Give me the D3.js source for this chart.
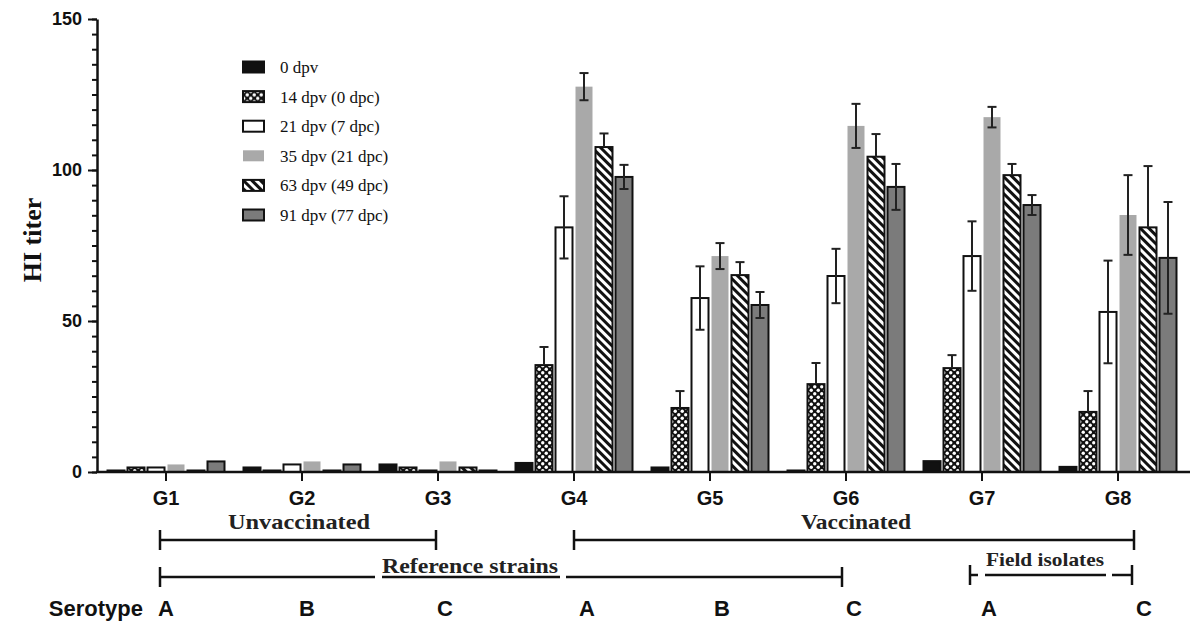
<!DOCTYPE html>
<html>
<head>
<meta charset="utf-8">
<script src="https://cdn.jsdelivr.net/npm/d3@7"></script>
<style>
  body { margin: 0; background: #fff; }
  svg { display: block; }
  .sans { font-family: "Liberation Sans", Arial, sans-serif; font-weight: bold; }
  .serif { font-family: "Liberation Serif", "Times New Roman", serif; }
</style>
</head>
<body>
<div id="chart"></div>
<script>
// Groups on the x axis
const groups = ["G1", "G2", "G3", "G4", "G5", "G6", "G7", "G8"];

// Legend labels (one per series)
const seriesNames = [
  "0 dpv",
  "14 dpv (0 dpc)",
  "21 dpv (7 dpc)",
  "35 dpv (21 dpc)",
  "63 dpv (49 dpc)",
  "91 dpv (77 dpc)"
];

// HI titer means (G1..G8)
const dpv0  = [0.5, 1.5, 2.5, 3.0, 1.5, 0.5, 3.6, 1.7];
const dpv14 = [1.5, 0.5, 1.5, 35.4, 21.2, 29.1, 34.4, 19.9];
const dpv21 = [1.5, 2.5, 0.5, 81.0, 57.6, 64.9, 71.5, 53.0];
const dpv35 = [2.5, 3.5, 3.5, 127.6, 71.5, 114.6, 117.5, 85.1];
const dpv63 = [0.5, 0.5, 1.5, 107.6, 65.2, 104.4, 98.3, 81.0];
const dpv91 = [3.5, 2.5, 0.5, 97.7, 55.3, 94.4, 88.4, 70.9];

// error bars (SD)
const err0  = [0, 0, 0, 0, 0, 0, 0, 0];
const err14 = [0, 0, 0, 6.0, 5.6, 7.0, 4.3, 6.9];
const err21 = [0, 0, 0, 10.3, 10.5, 9.0, 11.5, 17.0];
const err35 = [0, 0, 0, 4.5, 4.3, 7.3, 3.4, 13.2];
const err63 = [0, 0, 0, 4.5, 4.3, 7.5, 3.7, 20.3];
const err91 = [0, 0, 0, 4.0, 4.3, 7.6, 3.3, 18.5];

const yMajorTicks = [0, 50, 100, 150];

// Serotype row under the groups
const serotypes = ["A", "B", "C", "A", "B", "C", "A", "C"];

const values = [dpv0, dpv14, dpv21, dpv35, dpv63, dpv91];
const errors = [err0, err14, err21, err35, err63, err91];

const width = 1190, height = 624;

const svg = d3.select("#chart").append("svg")
  .attr("width", width)
  .attr("height", height);

// patterns
const defs = svg.append("defs");

const dots = defs.append("pattern")
  .attr("id", "dots")
  .attr("patternUnits", "userSpaceOnUse")
  .attr("width", 7).attr("height", 7);
dots.append("rect").attr("width", 7).attr("height", 7).attr("fill", "#111");
dots.append("circle").attr("cx", 1.75).attr("cy", 1.75).attr("r", 1.7).attr("fill", "#fff");
dots.append("circle").attr("cx", 5.25).attr("cy", 5.25).attr("r", 1.7).attr("fill", "#fff");

const stripes = defs.append("pattern")
  .attr("id", "stripes")
  .attr("patternUnits", "userSpaceOnUse")
  .attr("width", 6).attr("height", 6)
  .attr("patternTransform", "rotate(-45)");
stripes.append("rect").attr("width", 6).attr("height", 6).attr("fill", "#111");
stripes.append("rect").attr("width", 3).attr("height", 6).attr("fill", "#fff");

// bar look per series
const fills = ["#111", "url(#dots)", "#fff", "#a9a9a9", "url(#stripes)", "#7b7b7b"];
const strokes = ["#111", "#111", "#111", "none", "#111", "#111"];
const lowerErr = [false, false, true, true, false, true];

// Scales
const x0 = d3.scaleBand().domain(groups).range([98, 1186]);
const x1 = d3.scaleBand().domain(d3.range(seriesNames.length))
  .range([8, 128]).paddingInner(0.15).paddingOuter(0.075);
const y = d3.scaleLinear().domain([0, 150]).range([472, 19]);

// Bars
groups.forEach((g, gi) => {
  const cell = svg.append("g").attr("transform", `translate(${x0(g)},0)`);
  values.forEach((vals, si) => {
    const v = vals[gi];
    cell.append("rect")
      .attr("x", x1(si))
      .attr("y", y(v))
      .attr("width", x1.bandwidth())
      .attr("height", y(0) - y(v))
      .attr("fill", fills[si])
      .attr("stroke", strokes[si])
      .attr("stroke-width", 2);

    const e = errors[si][gi];
    if (e > 0) {
      const cx = x1(si) + x1.bandwidth() / 2;
      const lo = lowerErr[si] ? v - e : v;
      cell.append("line")
        .attr("x1", cx).attr("x2", cx)
        .attr("y1", y(lo)).attr("y2", y(v + e))
        .attr("stroke", "#222").attr("stroke-width", 2);
      cell.append("line")
        .attr("x1", cx - 4.5).attr("x2", cx + 4.5)
        .attr("y1", y(v + e)).attr("y2", y(v + e))
        .attr("stroke", "#222").attr("stroke-width", 2);
      if (lowerErr[si]) {
        cell.append("line")
          .attr("x1", cx - 4.5).attr("x2", cx + 4.5)
          .attr("y1", y(lo)).attr("y2", y(lo))
          .attr("stroke", "#222").attr("stroke-width", 2);
      }
    }
  });
});

// Y axis: minor ticks then major ticks with labels
svg.append("g")
  .attr("transform", "translate(97,0)")
  .call(d3.axisLeft(y).tickValues(d3.range(0, 151, 5)).tickSize(5).tickFormat(""))
  .call(g => g.select(".domain").remove())
  .call(g => g.selectAll("line").attr("stroke", "#111").attr("stroke-width", 2));

svg.append("g")
  .attr("transform", "translate(97,0)")
  .call(d3.axisLeft(y).tickValues(yMajorTicks).tickSize(9).tickSizeOuter(0).tickPadding(6))
  .call(g => g.select(".domain").attr("stroke", "#111").attr("stroke-width", 2.5))
  .call(g => g.selectAll("line").attr("stroke", "#111").attr("stroke-width", 2))
  .call(g => g.selectAll("text")
    .attr("class", "sans")
    .style("font-size", "18px")
    .attr("fill", "#111"));

// X axis
svg.append("line")
  .attr("x1", 96).attr("x2", width)
  .attr("y1", y(0)).attr("y2", y(0))
  .attr("stroke", "#111").attr("stroke-width", 2.5);

svg.append("g")
  .attr("transform", `translate(0,${y(0)})`)
  .call(d3.axisBottom(x0).tickSize(9).tickSizeOuter(0).tickPadding(10))
  .call(g => g.select(".domain").remove())
  .call(g => g.selectAll("line").attr("stroke", "#111").attr("stroke-width", 2))
  .call(g => g.selectAll("text")
    .attr("class", "sans")
    .style("font-size", "20px")
    .attr("fill", "#111"));

// Y label
svg.append("text")
  .attr("class", "serif")
  .attr("transform", "translate(32,240) rotate(-90)")
  .attr("text-anchor", "middle")
  .attr("dominant-baseline", "central")
  .style("font-size", "26px")
  .style("font-weight", "bold")
  .attr("fill", "#111")
  .text("HI titer");

// Legend
const legend = svg.append("g").attr("transform", "translate(242,67)");
seriesNames.forEach((name, i) => {
  const row = legend.append("g").attr("transform", `translate(0,${i * 29.6})`);
  row.append("rect")
    .attr("x", 1).attr("y", -5.5)
    .attr("width", 21).attr("height", 11)
    .attr("fill", fills[i])
    .attr("stroke", strokes[i])
    .attr("stroke-width", 2);
  row.append("text")
    .attr("class", "serif")
    .attr("x", 38)
    .attr("dy", "0.35em")
    .style("font-size", "17px")
    .attr("fill", "#111")
    .text(name);
});

// Brackets below the axis
const mid = g => x0(g) + x0.bandwidth() / 2;

function bracket(xa, xb, yy, gaps) {
  const pts = [xa].concat(gaps || []).concat([xb]);
  for (let i = 0; i < pts.length; i += 2) {
    svg.append("line")
      .attr("x1", pts[i]).attr("x2", pts[i + 1])
      .attr("y1", yy).attr("y2", yy)
      .attr("stroke", "#111").attr("stroke-width", 2.5);
  }
  [xa, xb].forEach(xx => {
    svg.append("line")
      .attr("x1", xx).attr("x2", xx)
      .attr("y1", yy - 10).attr("y2", yy + 10)
      .attr("stroke", "#111").attr("stroke-width", 2.5);
  });
}

function label(txt, cx, base, size, len) {
  svg.append("text")
    .attr("class", "serif")
    .attr("x", cx).attr("y", base)
    .attr("text-anchor", "middle")
    .attr("textLength", len)
    .attr("lengthAdjust", "spacingAndGlyphs")
    .style("font-size", size + "px")
    .style("font-weight", "bold")
    .attr("fill", "#222")
    .text(txt);
}

bracket(mid("G1") - 6, mid("G3") - 2, 540);
label("Unvaccinated", mid("G2") - 3, 529, 22, 142);

bracket(mid("G4"), mid("G8") + 16, 540);
label("Vaccinated", mid("G6") + 10, 529, 22, 110);

const refMid = mid("G3") + 32;
bracket(mid("G1") - 6, mid("G6") - 4, 577, [refMid - 95, refMid - 88, refMid + 90, refMid + 96]);
label("Reference strains", refMid, 573, 22, 176);

const fMid = (mid("G7") + mid("G8")) / 2 - 5;
bracket(mid("G7") - 12, mid("G8") + 14, 575, [fMid - 67, fMid - 60, fMid + 61, fMid + 67]);
label("Field isolates", fMid, 566, 19, 118);

// Serotype row
svg.append("text")
  .attr("class", "sans")
  .attr("x", 143).attr("y", 616)
  .attr("text-anchor", "end")
  .style("font-size", "22px")
  .attr("fill", "#111")
  .text("Serotype");

const seroShift = [0, 5, 7, 13, 12, 8, 7, 26];
serotypes.forEach((s, i) => {
  svg.append("text")
    .attr("class", "sans")
    .attr("x", mid(groups[i]) + seroShift[i])
    .attr("y", 616)
    .attr("text-anchor", "middle")
    .style("font-size", "22px")
    .attr("fill", "#111")
    .text(s);
});
</script>
</body>
</html>
